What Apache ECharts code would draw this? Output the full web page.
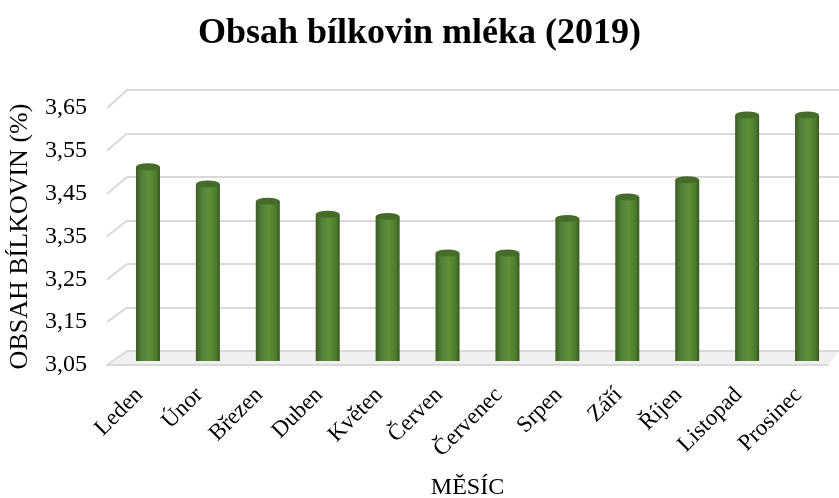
<!DOCTYPE html>
<html>
<head>
<meta charset="utf-8">
<script src="https://cdn.jsdelivr.net/npm/echarts@6/dist/echarts.min.js"></script>
<style>
html,body{margin:0;padding:0;background:#fff;}
#c{width:839px;height:498px;}
</style>
</head>
<body>
<div id="c"></div>
<script>
const categories = ['Leden','Únor','Březen','Duben','Květen','Červen','Červenec','Srpen','Září','Říjen','Listopad','Prosinec'];
const values = [3.50, 3.46, 3.42, 3.39, 3.385, 3.30, 3.30, 3.38, 3.43, 3.47, 3.62, 3.62];
const yMin = 3.05, yMax = 3.65, yStep = 0.1;
const titleText = 'Obsah bílkovin mléka (2019)';
const yName = 'OBSAH BÍLKOVIN (%)';
const xName = 'MĚSÍC';

const FONT = "'Liberation Serif','Times New Roman',serif";
const chart = echarts.init(document.getElementById('c'), null, {renderer:'canvas'});
const fmt = v => v.toFixed(2).replace('.', ',');

const barGrad = new echarts.graphic.LinearGradient(0,0,1,0,[
  {offset:0, color:'#3b5d22'},
  {offset:0.25, color:'#53803a'},
  {offset:0.55, color:'#5f903b'},
  {offset:0.85, color:'#4d7a2d'},
  {offset:1, color:'#36561f'}
]);

const option = {
  animation:false,
  backgroundColor:'#fff',
  title:{text:titleText, left:'center', top:11,
    textStyle:{fontFamily:FONT, fontSize:36, fontWeight:'bold', color:'#000'}},
  grid:[
    {left:118, right:2, top:102, bottom:137, outerBoundsMode:'none', containLabel:false},
    {left:127, right:0, top:90, bottom:147, outerBoundsMode:'none', containLabel:false},
    {left:107, right:11, top:108, bottom:133, outerBoundsMode:'none', containLabel:false}
  ],
  xAxis:[
    {gridIndex:0, type:'category', data:categories,
      axisLine:{show:false}, axisTick:{show:false},
      axisLabel:{rotate:45, margin:22, padding:[0,12,0,0], fontFamily:FONT, fontSize:23, color:'#000', interval:0}},
    {gridIndex:1, type:'category', data:categories, show:false},
    {gridIndex:2, type:'category', data:categories,
      axisLine:{show:true, lineStyle:{color:'#d9d9d9', width:2}},
      axisTick:{show:false}, axisLabel:{show:false},
      name:xName, nameLocation:'middle', nameGap:111,
      nameTextStyle:{fontFamily:FONT, fontSize:24, color:'#000'}}
  ],
  yAxis:[
    {gridIndex:0, type:'value', min:yMin, max:yMax, interval:yStep, show:false},
    {gridIndex:1, type:'value', min:yMin, max:yMax, interval:yStep,
      axisLine:{show:false}, axisTick:{show:false}, axisLabel:{show:false},
      splitLine:{show:true, lineStyle:{color:'#d9d9d9', width:2}}},
    {gridIndex:2, type:'value', min:yMin, max:yMax, interval:yStep,
      axisLine:{show:false}, axisTick:{show:false}, splitLine:{show:false},
      axisLabel:{margin:20, fontFamily:FONT, fontSize:24, color:'#000', formatter:fmt},
      name:yName, nameLocation:'middle', nameGap:74, nameRotate:90,
      nameTextStyle:{fontFamily:FONT, fontSize:26, color:'#000'}}
  ],
  series:[
    {type:'pictorialBar', xAxisIndex:0, yAxisIndex:0, z:1,
      data:values, symbol:'circle', symbolSize:[52,8], symbolPosition:'start',
      symbolOffset:[3,'-10%'],
      itemStyle:{color:'rgba(40,40,40,0.6)', shadowBlur:8, shadowColor:'rgba(0,0,0,0.7)'}},
    {type:'bar', xAxisIndex:0, yAxisIndex:0, z:2,
      data:values, barWidth:24,
      itemStyle:{color:barGrad, shadowBlur:3, shadowColor:'rgba(0,0,0,0.35)', shadowOffsetX:1}},
    {type:'pictorialBar', xAxisIndex:0, yAxisIndex:0, z:3,
      data:values, symbol:'circle', symbolSize:[24,7], symbolPosition:'start',
      symbolOffset:[0,'50%'],
      itemStyle:{color:barGrad}},
    {type:'pictorialBar', xAxisIndex:0, yAxisIndex:0, z:4,
      data:values, symbol:'circle', symbolSize:[24,7], symbolPosition:'end',
      symbolOffset:[0,'-50%'],
      itemStyle:{color:'#456c28'}}
  ]
};
chart.setOption(option);

// floor and side-wall diagonals, positioned from the axes
const ticks = [];
for (let v = yMin; v <= yMax + 1e-9; v += yStep) ticks.push(+v.toFixed(2));
const gfx = [];
const g2 = chart.getModel().getComponent('grid', 2).coordinateSystem.getRect();
const g1 = chart.getModel().getComponent('grid', 1).coordinateSystem.getRect();
gfx.push({type:'polygon', z:-1, shape:{points:[
  [g2.x, g2.y+g2.height],[g2.x+g2.width, g2.y+g2.height],
  [g1.x+g1.width, g1.y+g1.height],[g1.x, g1.y+g1.height]]},
  style:{fill:'#f0f0f0'}});
ticks.forEach(t => {
  const fy = g2.y + g2.height - (t - yMin)/(yMax - yMin)*g2.height;
  const by = g1.y + g1.height - (t - yMin)/(yMax - yMin)*g1.height;
  gfx.push({type:'line', z:-1, shape:{x1:g2.x, y1:fy, x2:g1.x, y2:by},
    style:{stroke:'#d9d9d9', lineWidth:2}});
});
chart.setOption({graphic:gfx});
</script>
</body>
</html>
